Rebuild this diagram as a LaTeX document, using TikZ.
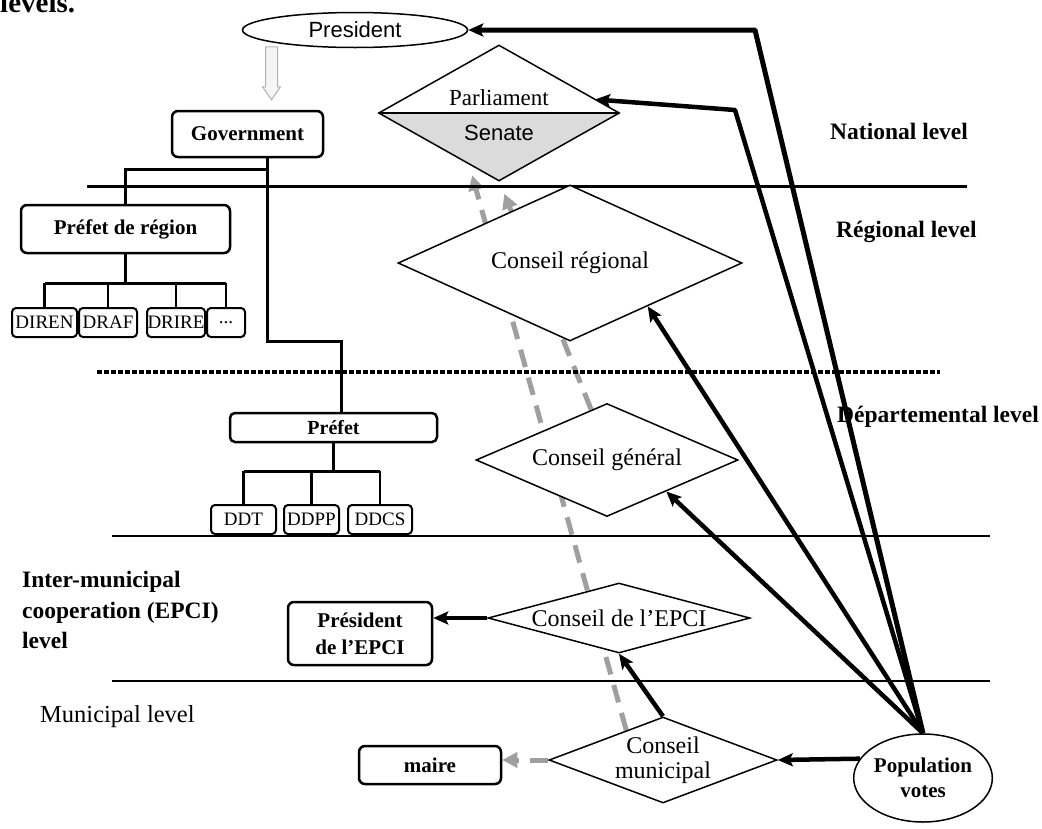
\documentclass[tikz,border=0pt]{standalone}
\usepackage{fontspec}
\setmainfont{Liberation Serif}
\setsansfont{Liberation Sans}
\usetikzlibrary{positioning,shapes.geometric,arrows.meta,calc,backgrounds}

\tikzset{
  lvltext/.style={anchor=west, align=left, inner sep=0pt, font=\bfseries\fontsize{23.5}{30.5}\selectfont},
  orgbox/.style={draw, line width=2.5pt, rounded corners=6pt, inner sep=0pt, align=center, font=\bfseries\fontsize{21}{27}\selectfont},
  servbox/.style={draw, line width=2pt, rounded corners=4pt, inner sep=0pt, minimum height=29pt, font=\fontsize{19}{20}\selectfont},
  council/.style={draw, diamond, fill=white, inner sep=0pt, line width=1.5pt,
    label={[font=\fontsize{24}{25}\selectfont, align=center]center:#1}},
  tree/.style={line width=2.5pt},
  sepline/.style={line width=2pt},
  vote/.style={line width=4.5pt, line join=round, -{Stealth[length=15pt,width=13pt,inset=3pt]}},
  indirect/.style={line width=5pt, gray!75, dash pattern=on 18pt off 11pt, -{Triangle[length=15pt,width=15pt]}},
}

\begin{document}
\begin{tikzpicture}[x=1pt, y=-1pt]
\useasboundingbox (0,0) rectangle (1042,828);

% caption remainder
\node[anchor=base west, inner sep=0pt, font=\bfseries\fontsize{29}{30}\selectfont] (caption) at (0,12) {levels.};

% level separators
\draw[sepline, line width=3pt] (87,186) -- (967,186);
\draw[line width=4pt, dash pattern=on 5pt off 2pt] (97,372) -- (940,372);
\draw[sepline] (112,536) -- (990,536);
\draw[sepline] (112,681) -- (990,681);

\node[lvltext] (natl) at (830,131) {National level};
\node[lvltext] (regl) at (836,232) {Régional level};
\node[lvltext] (depl) at (837,417) {Départemental level};
\node[lvltext] (epcil) at (22,610) {Inter-municipal\\cooperation (EPCI)\\level};
\node[lvltext, font=\fontsize{24.5}{30}\selectfont] (munl) at (40,717) {Municipal level};

% state side
\node[draw, ellipse, line width=1.5pt, inner sep=0pt, minimum width=225pt, minimum height=35pt,
  font=\sffamily\fontsize{22}{24}\selectfont] (pres) at (355,30) {President};
\node[orgbox, minimum width=151pt, minimum height=46pt] (gov) at (247.5,134) {Government};
\draw[gray!60, line width=1pt, fill=gray!8] ($(gov.north)+(18,-63)$) -- ++(0,40) -- ++(-3,0)
  -- ++(9,13) -- ++(9,-13) -- ++(-3,0) -- ++(0,-40) -- cycle;

\node[orgbox, minimum width=209pt, minimum height=48pt, font=\bfseries\fontsize{21}{24}\selectfont] (pdr) at (125.5,229) {Préfet de région};
\node[servbox, minimum width=65pt] (diren) at (44.5,322.5) {DIREN};
\node[servbox, minimum width=58pt, right=0pt of diren] (draf) {DRAF};
\node[servbox, minimum width=58pt, right=8pt of draf] (drire) {DRIRE};
\node[servbox, minimum width=38pt, right=0pt of drire] (etc) {...};

\node[orgbox, minimum width=207pt, minimum height=29pt, rounded corners=5pt, font=\bfseries\fontsize{20}{20}\selectfont] (pref) at (333.5,427.5) {Préfet};
\node[servbox, minimum width=65pt] (ddt) at (243.5,519.5) {DDT};
\node[servbox, minimum width=55pt, right=6pt of ddt] (ddpp) {DDPP};
\node[servbox, minimum width=64pt, right=7pt of ddpp] (ddcs) {DDCS};

\coordinate (govfoot) at ($(gov.south)+(20,0)$);
\draw[tree] (govfoot) -- ++(0,183) -| ($(pref.north)+(8,0)$);
\draw[tree] ($(govfoot)+(0,11)$) -| (pdr.north);
\draw[tree] (pdr.south) -- ++(0,29) coordinate (pdrbus);
\draw[tree] (diren.north |- pdrbus) -- (etc.north |- pdrbus);
\foreach \s in {diren,draf,drire,etc}
  \draw[tree] (\s.north) -- (\s.north |- pdrbus);
\draw[tree] (pref.south) -- ++(0,28) coordinate (prefbus);
\draw[tree] (ddt.north |- prefbus) -- (ddcs.north |- prefbus);
\foreach \s in {ddt,ddpp,ddcs}
  \draw[tree] (\s.north) -- (\s.north |- prefbus);

\node[orgbox, minimum width=144pt, minimum height=63pt, font=\bfseries\fontsize{21}{27}\selectfont] (epres) at (360,633.5) {Président\\de l’EPCI};
\node[orgbox, minimum width=142pt, minimum height=38pt, font=\bfseries\fontsize{21}{24}\selectfont] (maire) at (430,765) {maire};

% assemblies
\node[diamond, inner sep=0pt, minimum width=240pt, minimum height=135pt] (parl) at (499,113) {};
\fill[gray!28] (parl.west) -- (parl.east) -- (parl.south) -- cycle;
\draw[line width=1.5pt] (parl.north) -- (parl.east) -- (parl.south) -- (parl.west) -- cycle;
\draw[line width=1.2pt] (parl.west) -- (parl.east);
\node[font=\fontsize{23}{24}\selectfont] (parlname) at ($(parl.center)+(0,-15)$) {Parliament};
\node[font=\sffamily\fontsize{22}{24}\selectfont] (senname) at ($(parl.center)+(0,20)$) {Senate};

\node[council={Conseil régional}, minimum width=344pt, minimum height=156pt] (cr) at (570,263) {};
\node[council={Conseil général}, minimum width=262pt, minimum height=113pt] (cg) at (607,460) {};
\node[council={Conseil de l’EPCI}, minimum width=262pt, minimum height=70pt] (ce) at (619,618) {};
\node[council={Conseil\\municipal}, minimum width=228pt, minimum height=86pt] (cm) at (663,760) {};

\node[draw, ellipse, line width=1.5pt, inner sep=0pt, minimum width=124pt, minimum height=88pt, align=center,
  font=\bfseries\fontsize{21}{25}\selectfont] (pop) at (923,778) {Population\\votes};

% indirect designation
\begin{scope}[on background layer]
\draw[indirect] (cm.west) -- (cm.west -| maire.east);
\draw[indirect, shorten >=12pt] ($(cm.north)!0.32!(cm.west)$) -- ($(parl.west)!0.75!(parl.south)$);
\draw[indirect, shorten >=14pt] ($(cg.north)!0.12!(cg.west)$) -- (parl.south);
\end{scope}

% direct votes
\coordinate (presbend) at (755,30);
\coordinate (parlbend) at (735,110);
\draw[vote, line width=5pt] (pop.north) -- (presbend) -- (pres.east);
\draw[vote] (pop.north) -- (parlbend) -- ($(parl.east)!0.2!(parl.north)$);
\draw[vote] (pop.north) -- ($(cr.east)!0.55!(cr.south)$);
\draw[vote] (pop.north) -- ($(cg.east)!0.55!(cg.south)$);
\draw[vote] (pop.163) -- (cm.east);
\draw[vote] (cm.north) -- (ce.south);
\draw[vote] (ce.west) -- (ce.west -| epres.east);
\end{tikzpicture}
\end{document}
